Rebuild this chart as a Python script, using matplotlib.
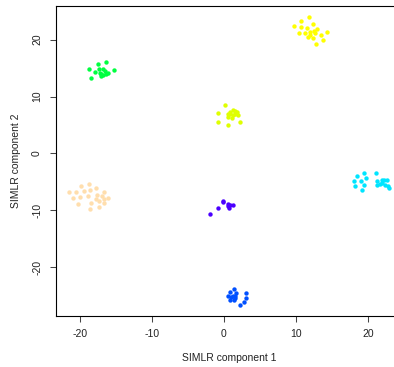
import numpy as np
import matplotlib
matplotlib.use("Agg")
import matplotlib.pyplot as plt

plt.rcParams['font.family'] = ['Liberation Sans', 'DejaVu Sans']
plt.rcParams['axes.unicode_minus'] = False

# SIMLR 2-D embedding, one array pair per cluster
yellow_x = [11.8, 10.7, 12.3, 9.7, 10.7, 11.5, 12.9, 10.4, 11.2, 11.9, 12.5, 11.9, 12.6, 13.4, 14.3, 11.6, 12.4, 13.8, 12.8]
yellow_y = [23.9, 23.3, 22.7, 22.4, 22.2, 22.1, 21.9, 21.2, 21.2, 21.4, 21.5, 20.9, 21.1, 20.8, 21.3, 20.4, 20.2, 19.9, 19.3]

green_x = [-17.5, -16.3, -18.7, -17.9, -17.4, -16.8, -16.5, -17.1, -16.8, -16.1, -15.3, -18.5, -17.0, -16.3, -17.2]
green_y = [15.8, 16.0, 14.8, 14.3, 14.8, 14.9, 14.5, 14.0, 13.7, 14.1, 14.7, 13.3, 13.6, 14.0, 14.2]

lime_x = [0.2, -0.8, 1.3, 0.8, 1.8, 0.6, 1.1, 1.9, 1.5, -0.8, 0.6, 2.2, 0.9, 1.2, 0.5, 1.6]
lime_y = [8.5, 7.1, 7.6, 7.0, 7.3, 6.4, 6.3, 6.7, 7.4, 5.6, 5.0, 5.5, 7.3, 6.8, 6.9, 6.9]

peach_x = [-21.5, -20.5, -19.9, -18.75, -17.7, -19.4, -18.6, -16.7, -20.9, -20.0, -18.9,
           -17.6, -16.9, -17.8, -17.3, -16.7, -16.1, -20.3, -18.5, -16.6, -18.6, -17.4]
peach_y = [-6.7, -6.7, -5.7, -5.3, -6.1, -6.6, -6.4, -6.7, -7.9, -7.7, -7.5,
           -7.3, -7.5, -8.0, -8.4, -8.1, -7.9, -8.9, -8.7, -8.7, -9.7, -9.4]

purple_x = [-0.14, -0.2, 0.56, 1.2, 0.6, 0.74, -0.8, -2.0, 0.9]
purple_y = [-8.3, -8.6, -8.9, -9.0, -9.3, -9.6, -9.6, -10.7, -9.0]

cyan_x = [19.4, 21.1, 18.5, 19.7, 18.0, 19.0, 21.2, 21.9, 22.6, 18.2, 19.4, 21.2, 21.9, 22.4, 22.8, 19.1, 22.9, 22.2, 21.7]
cyan_y = [-3.4, -3.5, -4.0, -4.4, -4.8, -4.9, -4.9, -4.6, -4.6, -5.8, -5.6, -5.6, -5.2, -5.5, -5.7, -6.5, -6.1, -4.75, -5.3]

blue_x = [1.35, 0.8, 1.7, 3.0, 0.5, 1.2, 1.6, 3.1, 0.8, 1.4, 1.5, 2.8, 2.2, 1.0]
blue_y = [-23.8, -24.4, -24.5, -24.5, -25.0, -25.0, -25.1, -25.35, -25.8, -25.8, -25.5, -26.1, -26.6, -25.3]

clusters = [
    (yellow_x, yellow_y, '#FFFF00'),
    (green_x, green_y, '#00FF40'),
    (lime_x, lime_y, '#DFFF00'),
    (peach_x, peach_y, '#FFDEAD'),
    (purple_x, purple_y, '#4B00FF'),
    (cyan_x, cyan_y, '#00E5FF'),
    (blue_x, blue_y, '#0050FF'),
]

fig = plt.figure(figsize=(3.94, 3.67), dpi=100)
W, H = 394.0, 367.0
# plot region in pixels: left 56, right ~402 (runs past the edge), top 5.5, bottom 315.5
ax = fig.add_axes([56 / W, 1 - 315.5 / H, (402 - 56) / W, (315.5 - 5.5) / H])

for xs, ys, col in clusters:
    ax.scatter(xs, ys, s=10, c=col, linewidths=0, zorder=3)

ax.set_xlim(-23.3, 24.7)
ax.set_ylim(-28.5, 26.0)
ax.set_xticks([-20, -10, 0, 10, 20])
ax.set_yticks([-20, -10, 0, 10, 20])
ax.tick_params(direction='out', length=4, width=0.75, labelsize=7.5, pad=6,
               color='#444444', labelcolor='#222222')
for lab in ax.get_yticklabels():
    lab.set_rotation(90)
    lab.set_va('center')
for sp in ax.spines.values():
    sp.set_linewidth(0.8)
    sp.set_color('black')

ax.set_xlabel('SIMLR component 1', fontsize=7.5, labelpad=10, color='#222222')
ax.set_ylabel('SIMLR component 2', fontsize=7.5, labelpad=8, color='#222222')

fig.savefig('out.png', dpi=100)
